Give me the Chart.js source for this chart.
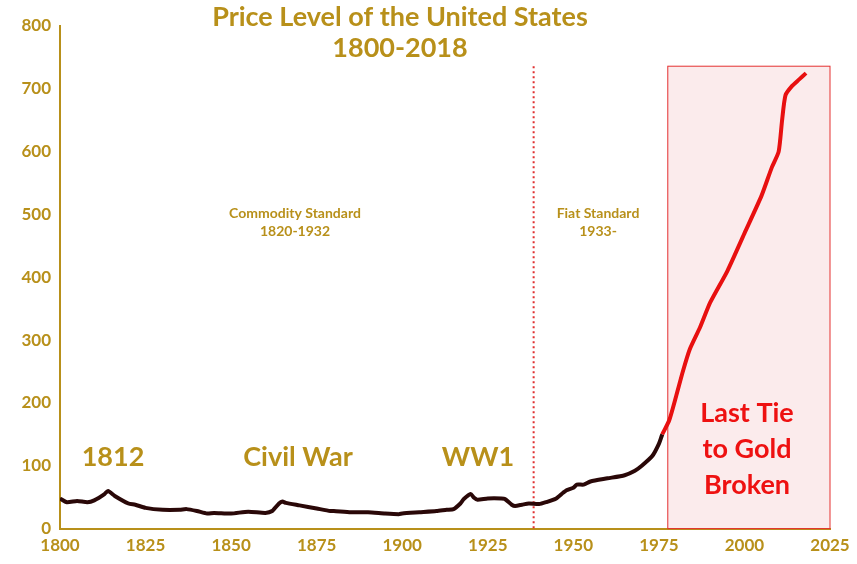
<!DOCTYPE html>
<html><head><meta charset="utf-8">
<script src="https://cdn.jsdelivr.net/npm/chart.js@4"></script>
<style>html,body{margin:0;padding:0;background:#fff}#w{width:857px;height:564px}</style>
</head><body><div id="w"><canvas id="c"></canvas></div>
<script>
const years=[1800,1802,1805,1808,1810,1813,1814,1816,1820,1822,1825,1830,1835,1837,1840,1843,1845,1850,1855,1860,1862,1864,1865,1866,1870,1875,1879,1880,1885,1890,1895,1899,1900,1905,1910,1913,1915,1917,1918,1920,1921,1922,1925,1929,1930,1932,1933,1935,1937,1940,1942,1945,1947,1948,1950,1951,1953,1955,1960,1965,1968,1970,1973,1975,1976,1978,1980,1982,1984,1987,1990,1995,2000,2005,2008,2010,2011,2012,2014,2016,2018];
const prices=[48,42,44,42,45,55,60,52,40,38,33,30,30,31,28,24,25,24,27,25,28,40,43,41,37,32,28,28,26,26,24,23,24,26,28,30,31,40,47,55,49,46,48,48,47,38,36,38,40,39,42,48,57,61,65,70,70,75,80,85,92,100,115,135,150,172,210,250,285,320,360,410,470,530,575,600,650,690,705,715,725];
const xTicks=[1800,1825,1850,1875,1900,1925,1950,1975,2000,2025];
const gold='#b8901a';
const pts=years.map((y,i)=>({x:y,y:prices[i]}));
const ann={id:'ann',beforeDatasetsDraw(ch){const c=ch.ctx,x=ch.scales.x,y=ch.scales.y;
 c.save();
 c.fillStyle='rgba(230,120,130,0.15)';c.strokeStyle='#e53030';c.lineWidth=1;
 const bx=x.getPixelForValue(1977.6),by=y.getPixelForValue(736),bw=x.getPixelForValue(2025)-bx,bh=y.getPixelForValue(0)-by;
 c.fillRect(bx,by,bw,bh);c.strokeRect(bx,by,bw,bh);
 c.strokeStyle='#e03030';c.setLineDash([2,3]);c.lineWidth=2;c.beginPath();
 const dx=x.getPixelForValue(1938.4);c.moveTo(dx,y.getPixelForValue(736));c.lineTo(dx,y.getPixelForValue(0));c.stroke();c.setLineDash([]);
 c.restore();},
 afterDraw(ch){const c=ch.ctx;c.save();c.textAlign='center';c.textBaseline='middle';
 const t=(s,px,py,f,col)=>{c.font=f;c.fillStyle=col;c.fillText(s,px,py);};
 const big='bold 27px Lato';
 t('Price Level of the United States',400,17,big,gold);t('1800-2018',400,48,big,gold);
 t('1812',113,457,big,gold);t('Civil War',298,457,big,gold);t('WW1',478,457,big,gold);
 t('Commodity Standard',295,213,'bold 14px Lato',gold);t('1820-1932',295,231,'bold 14px Lato',gold);
 t('Fiat Standard',598,213,'bold 14px Lato',gold);t('1933-',598,231,'bold 14px Lato',gold);
 t('Last Tie',747,413,big,'#ee1111');t('to Gold',747,449,big,'#ee1111');t('Broken',747,485,big,'#ee1111');
 c.restore();}};
new Chart(document.getElementById('c'),{type:'line',
 data:{datasets:[{data:pts,borderWidth:4,pointRadius:0,tension:0.2,borderColor:'#2a0808',
  segment:{borderColor:ctx=>ctx.p0.parsed.x>=1976?'#e81010':'#2a0808'}}]},
 options:{responsive:true,maintainAspectRatio:false,animation:false,
  layout:{padding:{left:0,right:27,top:26,bottom:6}},
  plugins:{legend:{display:false},tooltip:{enabled:false}},
  scales:{x:{type:'linear',min:1800,max:2025,afterBuildTicks:a=>{a.ticks=xTicks.map(v=>({value:v}))},
    grid:{display:false,drawTicks:true,tickLength:5,color:gold},border:{color:gold,width:2},
    ticks:{color:gold,font:{family:'Lato',size:17,weight:'bold'},maxRotation:0,padding:2,callback:v=>String(v)}},
   y:{min:0,max:800,afterFit:s=>{s.width=60},grid:{display:false,tickLength:5,color:gold},border:{color:gold,width:2},
    ticks:{stepSize:100,color:gold,font:{family:'Lato',size:17,weight:'bold'},padding:4}}}},
 plugins:[ann]});
</script></body></html>
